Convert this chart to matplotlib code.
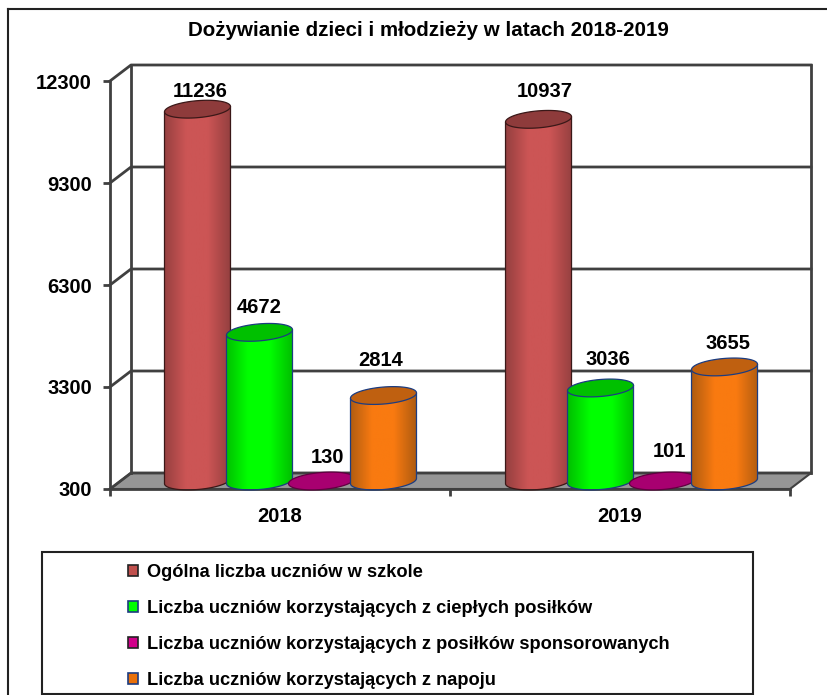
import numpy as np
import matplotlib
matplotlib.use("Agg")
import matplotlib.pyplot as plt
from matplotlib.colors import LinearSegmentedColormap
from matplotlib.patches import Patch, Polygon, Rectangle, PathPatch
from matplotlib.path import Path

plt.rcParams["font.family"] = ["Liberation Sans", "DejaVu Sans"]
plt.rcParams["font.weight"] = "bold"

years = ["2018", "2019"]
series_names = ["Ogólna liczba uczniów w szkole",
                "Liczba uczniów korzystających z ciepłych posiłków",
                "Liczba uczniów korzystających z posiłków sponsorowanych",
                "Liczba uczniów korzystających z napoju"]
ogolna = [11236, 10937]
cieple = [4672, 3036]
sponsorowane = [130, 101]
napoj = [2814, 3655]
yticks = [300, 3300, 6300, 9300, 12300]

W, H = 828, 695
face = ["#cc5555", "#00ff00", "#c0007a", "#f97a10"]
edge = ["#964040", "#00c000", "#a00068", "#b05c10"]
top = ["#8e3b3b", "#00c000", "#a80070", "#bf6010"]
line = ["#3a1818", "#1c3c80", "#600040", "#1c3c80"]
legend_face = ["#c0504d", "#00ff00", "#d0008a", "#e8700a"]
legend_edge = ["#222222", "#1c3c80", "#222222", "#1c3c80"]
# label shift from the bar top, in points
shift_x = [[2, -0.2, 4.2, -2.3], [4.2, 5.3, 5.3, 2.3]]
shift_y = [[0, 5, 4, 12.5], [7, 7.2, 8, 3.6]]

fig = plt.figure(figsize=(W / 100, H / 100), dpi=100)

# axes = front plane of the 3d box
ax = fig.add_axes([110 / W, 1 - 489 / H, 680 / W, 408 / H])
ax.set_xlim(-0.5, 1.5)
ax.set_ylim(300, 12300)
px = 2.0 / 680
py = 12000 / 408
dx = 21 * px    # depth of box
dy = 16 * py

gray = "#404040"
for s in ["top", "right"]:
    ax.spines[s].set_visible(False)
for s in ["left", "bottom"]:
    ax.spines[s].set_color(gray)
    ax.spines[s].set_linewidth(2)
ax.patch.set_alpha(0)

ax.set_yticks(yticks)
ax.set_yticklabels([str(t) for t in yticks], fontsize=14.5)
ax.set_xticks([-0.5, 0.5, 1.5])
ax.set_xticklabels([])
ax.set_xticks([0, 1], minor=True)
ax.set_xticklabels(years, minor=True, fontsize=14.5)
ax.tick_params(axis="y", length=5, width=2, color=gray, pad=8)
ax.tick_params(axis="x", which="major", length=5, width=2, color=gray)
ax.tick_params(axis="x", which="minor", length=0, pad=13)

# floor and walls
x0, x1 = ax.get_xlim()
floor = Polygon([(x0, 300), (x0 + dx, 300 + dy), (x1 + dx, 300 + dy), (x1, 300)],
                closed=True, fc="#969696", ec=gray, lw=1.5, clip_on=False, zorder=1)
ax.add_patch(floor)
for t in yticks:
    ax.plot([x0, x0 + dx, x1 + dx], [t, t + dy, t + dy], color=gray, lw=2,
            clip_on=False, zorder=1.5)
ax.plot([x0 + dx, x0 + dx], [300 + dy, 12300 + dy], color=gray, lw=2, clip_on=False, zorder=1.5)
ax.plot([x1 + dx, x1 + dx], [300 + dy, 12300 + dy], color=gray, lw=2, clip_on=False, zorder=1.5)


def ellipse_xy(cx, cy, a, b, t):
    # slightly tilted ellipse, right end is higher
    xs = cx + a * np.cos(t)
    ys = cy + b * np.sin(t) + 0.08 * (a / px) * py * np.cos(t)
    return xs, ys


bar_w = 33 * px
step = 62 * px
ell_h = 8.5 * py
series = [ogolna, cieple, sponsorowane, napoj]
t_all = np.linspace(0, 2 * np.pi, 80)

for k, vals in enumerate(series):
    cmap = LinearSegmentedColormap.from_list("c", [edge[k], face[k], face[k], edge[k]])
    for i, v in enumerate(vals):
        cx = i * 1.003 + (k - 1.5) * step + dx / 2
        base = 300 + dy / 2
        h = max(v, 300) + dy / 2
        order = 3 + k * 0.1
        if k == 3:
            order = 3.25   # orange stands in front of the flat purple one
        if v > 300:
            tb = np.linspace(np.pi, 2 * np.pi, 40)
            bx, by = ellipse_xy(cx, base, bar_w, ell_h, tb)
            tx, ty = ellipse_xy(cx, h, bar_w, ell_h, np.array([0.0, np.pi]))
            verts = list(zip(bx, by)) + [(tx[0], ty[0]), (tx[1], ty[1])]
            verts.append(verts[0])
            body = Path(verts, closed=True)
            patch = PathPatch(body, fc="none", ec=line[k], lw=0.9, clip_on=False, zorder=order + 0.02)
            ax.add_patch(patch)
            grad = np.linspace(0, 1, 128).reshape(1, -1)
            im = ax.imshow(grad, cmap=cmap, aspect="auto", zorder=order,
                           extent=[cx - bar_w, cx + bar_w, base - 2 * ell_h, h + 2 * ell_h])
            im.set_clip_path(PathPatch(body, transform=ax.transData))
        ex, ey = ellipse_xy(cx, h, bar_w, ell_h, t_all)
        ax.fill(ex, ey, fc=top[k], ec=line[k], lw=0.9, clip_on=False, zorder=order + 0.03)
        ax.annotate(str(v), (cx, h + ell_h), xytext=(shift_x[i][k], shift_y[i][k]), textcoords="offset points",
                    ha="center", va="bottom", fontsize=14.5, zorder=6, annotation_clip=False)

ax.set_xlim(x0, x1)
ax.set_ylim(300, 12300)

fig.text(428 / W, 1 - 30.5 / H, "Dożywianie dzieci i młodzieży w latach 2018-2019",
         ha="center", va="center", fontsize=14.8)

# outer frame, cut by the picture edge
fig.add_artist(plt.Line2D([8 / W, 8 / W], [0, 1 - 9 / H], color="#222222", lw=1.5))
fig.add_artist(plt.Line2D([8 / W, 1], [1 - 9 / H, 1 - 9 / H], color="#222222", lw=1.5))

# legend box
fig.add_artist(Rectangle((42 / W, 1 - 694 / H), 711 / W, 142 / H, transform=fig.transFigure,
                         fc="white", ec="#222222", lw=1.5))
handles = [Patch(fc=legend_face[k], ec=legend_edge[k], lw=1.2) for k in range(4)]
fig.legend(handles, series_names, loc="upper left", bbox_to_anchor=(114 / W, 1 - 550.5 / H),
           frameon=False, fontsize=13.15, handlelength=0.55, handleheight=0.55,
           handletextpad=0.5, labelspacing=1.04, borderaxespad=0, borderpad=0.75)

fig.savefig("out.png", dpi=100)
